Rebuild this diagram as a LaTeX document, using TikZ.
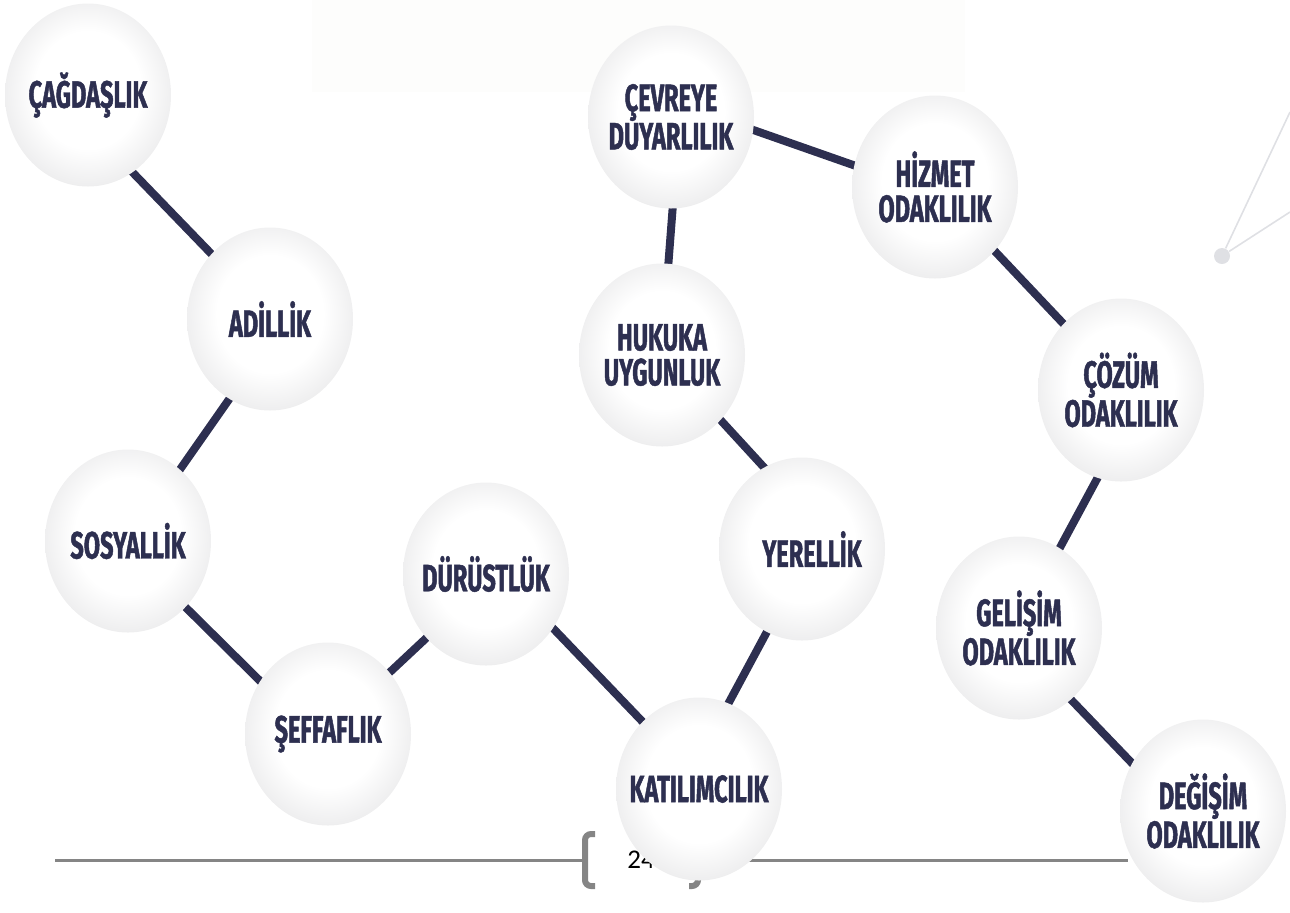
\documentclass[tikz,border=0pt]{standalone}
\usepackage{fontspec}
\usetikzlibrary{shapes.geometric,backgrounds}
\newfontfamily\lblfont{Fira Sans}[FakeStretch=0.62, FakeBold=1.2]
\newfontfamily\pagefont{Carlito}
\definecolor{navy}{RGB}{45,47,80}
\definecolor{ballrim}{RGB}{202,202,204}
\definecolor{ballmid}{RGB}{236,236,237}
\definecolor{rulegray}{RGB}{133,133,133}
\definecolor{decogray}{RGB}{223,224,228}
\definecolor{paper}{RGB}{253,253,252}
\pgfdeclareradialshading{ballshade}{\pgfpoint{0bp}{2bp}}{color(0bp)=(white); color(16bp)=(white); color(27bp)=(ballmid); color(35bp)=(ballrim); color(50bp)=(ballrim)}
\begin{document}
\begin{tikzpicture}[x=0.5pt, y=-0.5pt,
  ball/.style={ellipse, minimum width=83pt, minimum height=91.5pt, inner sep=0pt, shading=ballshade},
  balltext/.style={font=\lblfont\bfseries\fontsize{19}{17.5}\selectfont, text=navy, align=center, inner sep=0pt},
  link/.style={draw=navy, line width=4pt, shorten <=-3pt, shorten >=-3pt}]
\useasboundingbox (0,0) rectangle (1290,912);
% values
\node[ball, label={[balltext]center:ÇAĞDAŞLIK}] (cag) at (88,95) {};
\node[ball, label={[balltext]center:ADİLLİK}] (adi) at (270,319) {};
\node[ball, label={[balltext]center:SOSYALLİK}] (sos) at (128,541) {};
\node[ball, label={[balltext]center:ŞEFFAFLIK}] (sef) at (328,734) {};
\node[ball, label={[balltext]center:DÜRÜSTLÜK}] (dur) at (486,574) {};
\node[ball, label={[balltext]center:KATILIMCILIK}] (kat) at (699,789) {};
\node[ball, label={[balltext, xshift=5pt]center:YERELLİK}] (yer) at (802,549) {};
\node[ball, label={[balltext]center:HUKUKA\\UYGUNLUK}] (huk) at (662,355) {};
\node[ball, label={[balltext]center:ÇEVREYE\\DUYARLILIK}] (cev) at (671,117) {};
\node[ball, label={[balltext]center:HİZMET\\ODAKLILIK}] (hiz) at (935,187) {};
\node[ball, label={[balltext]center:ÇÖZÜM\\ODAKLILIK}] (coz) at (1121,390) {};
\node[ball, label={[balltext]center:GELİŞİM\\ODAKLILIK}] (gel) at (1019,628) {};
\node[ball, label={[balltext]center:DEĞİŞİM\\ODAKLILIK}] (deg) at (1203,811) {};
\begin{scope}[on background layer]
% page frame
\fill[paper] (312,0) rectangle (965,92);
\draw[rulegray, line width=1.5pt] (55,860) -- (585,860);
\draw[rulegray, line width=1.5pt] (698,860) -- (1128,860);
\draw[rulegray, line width=3pt, rounded corners=3pt] (595,834) -- (585,834) -- (585,886) -- (595,886);
\draw[rulegray, line width=3pt, rounded corners=3pt] (689,834) -- (698,834) -- (698,886) -- (689,886);
\node[font=\pagefont\fontsize{13.5}{16}\selectfont, anchor=base west, inner sep=0pt] (page) at (627,868) {24};
\node[circle, fill=decogray, minimum size=8pt, inner sep=0pt] (dot) at (1222,256) {};
\coordinate (decoA) at (1290,112);
\coordinate (decoB) at (1290,212);
\draw[decogray, line width=0.8pt] (dot) -- (decoA);
\draw[decogray, line width=0.8pt] (dot) -- (decoB);
% chain
\draw[link] (cag.-60) -- (adi.132);
\draw[link] (adi.-117) -- (sos.54);
\draw[link] (sos.-49) -- (sef.142);
\draw[link] (sef.45) -- (dur.-133);
\draw[link] (dur.-39) -- (kat.130);
\draw[link] (kat.71) -- (yer.-113);
\draw[link] (yer.115) -- (huk.-48);
\draw[link] (huk.86) -- (cev.-89);
\draw[link] (cev.-9) -- (hiz.165);
\draw[link] (hiz.-47) -- (coz.131);
\draw[link] (coz.-105) -- (gel.63);
\draw[link] (gel.-54) -- (deg.146);
\end{scope}
\end{tikzpicture}
\end{document}
